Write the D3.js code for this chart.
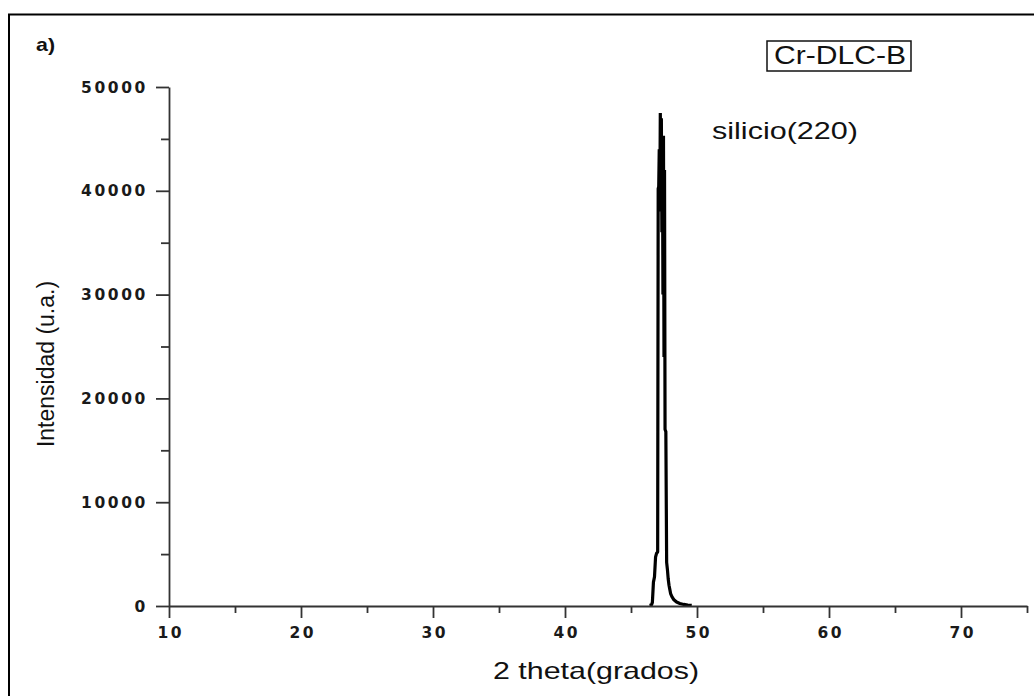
<!DOCTYPE html>
<html>
<head>
<meta charset="utf-8">
<script src="https://cdn.jsdelivr.net/npm/d3@7"></script>
<style>
  body { margin: 0; background: #fff; }
</style>
</head>
<body>
<svg id="chart"></svg>
<script>
// XRD scan, only the region around the Si(220) peak
const theta = [46.40, 46.55, 46.62, 46.70, 46.78, 46.86, 46.94, 47.02, 47.06, 47.10,
  47.14, 47.18, 47.22, 47.26, 47.30, 47.34, 47.38, 47.42, 47.46, 47.50, 47.54, 47.58,
  47.64, 47.70, 47.76, 47.82, 47.88, 47.94, 48.00, 48.10, 48.25, 48.45, 48.70, 49.00,
  49.30, 49.60];
const intensity = [60, 90, 350, 2300, 2800, 4700, 5100, 5200, 40200, 40400,
  44000, 38000, 47500, 42000, 47000, 36000, 45300, 30000, 45300, 24000, 42000, 17000,
  16800, 4200, 3500, 2600, 2000, 1600, 1200, 900, 600, 380, 240, 150,
  90, 60];

const xTicks = [10, 20, 30, 40, 50, 60, 70];
const xMinor = [15, 25, 35, 45, 55, 65, 75];
const yTicks = [0, 10000, 20000, 30000, 40000, 50000];
const yMinor = [5000, 15000, 25000, 35000, 45000];

const width = 1034;
const height = 696;

const svg = d3.select("#chart").attr("width", width).attr("height", height);

// outer frame (right and bottom edges run off the picture)
svg.append("rect")
  .attr("x", 9).attr("y", 14.5)
  .attr("width", 1040).attr("height", 700)
  .attr("fill", "none").attr("stroke", "#000").attr("stroke-width", 2);

const x = d3.scaleLinear().domain([10, 75]).range([169, 1027]);
const y = d3.scaleLinear().domain([0, 50000]).range([606, 87]);

const ls = 2.6; // letter spacing of tick labels
const tickFont = (sel) => sel
  .style("font-family", "'DejaVu Sans', sans-serif")
  .style("font-weight", "bold")
  .style("font-size", "15.5px")
  .style("letter-spacing", ls + "px")
  .attr("fill", "#1a1a1a");

// data line
const line = d3.line()
  .x((d, i) => x(theta[i]))
  .y((d) => y(d));

svg.append("path")
  .datum(intensity)
  .attr("d", line)
  .attr("fill", "none")
  .attr("stroke", "#000")
  .attr("stroke-width", 3.2)
  .attr("stroke-linejoin", "bevel");

// x axis
const xAxis = svg.append("g").attr("transform", `translate(0, ${y(0)})`);
xAxis.call(d3.axisBottom(x).tickValues(xTicks).tickSize(12).tickSizeOuter(0).tickFormat(d3.format("d")));
const xAxisMinor = svg.append("g").attr("transform", `translate(0, ${y(0)})`);
xAxisMinor.call(d3.axisBottom(x).tickValues(xMinor).tickSize(7).tickSizeOuter(0).tickFormat(""));
xAxisMinor.select(".domain").remove();
xAxis.selectAll("text").call(tickFont).attr("y", 21).attr("dx", ls / 2);

// y axis
const yAxis = svg.append("g").attr("transform", `translate(${x(10)}, 0)`);
yAxis.call(d3.axisLeft(y).tickValues(yTicks).tickSize(13).tickSizeOuter(0).tickFormat(d3.format("d")));
const yAxisMinor = svg.append("g").attr("transform", `translate(${x(10)}, 0)`);
yAxisMinor.call(d3.axisLeft(y).tickValues(yMinor).tickSize(8).tickSizeOuter(0).tickFormat(""));
yAxisMinor.select(".domain").remove();
yAxis.selectAll("text").call(tickFont).attr("x", -21).attr("dy", "0.33em");

svg.selectAll(".domain, .tick line")
  .attr("stroke", "#333")
  .attr("stroke-width", 1.8);

// labels (the source picture is stretched sideways, so textLength is used)
const label = (txt, px, py, size, len, weight) => svg.append("text")
  .attr("x", px).attr("y", py)
  .attr("textLength", len)
  .attr("lengthAdjust", "spacingAndGlyphs")
  .style("font-family", "'Liberation Sans', Arial, sans-serif")
  .style("font-size", size + "px")
  .style("font-weight", weight || "normal")
  .attr("fill", "#111")
  .text(txt);

label("a)", 36, 51, 19, 19, "bold");
label("silicio(220)", 712, 139, 24, 146);
label("2 theta(grados)", 493, 679, 24, 206);

svg.append("rect")
  .attr("x", 767).attr("y", 41)
  .attr("width", 144).attr("height", 30)
  .attr("fill", "none").attr("stroke", "#111").attr("stroke-width", 1.5);
label("Cr-DLC-B", 774, 64, 25, 132);

svg.append("text")
  .attr("transform", "translate(54, 364) rotate(-90)")
  .attr("text-anchor", "middle")
  .style("font-family", "'Liberation Sans', Arial, sans-serif")
  .style("font-size", "23px")
  .attr("fill", "#111")
  .text("Intensidad (u.a.)");
</script>
</body>
</html>
